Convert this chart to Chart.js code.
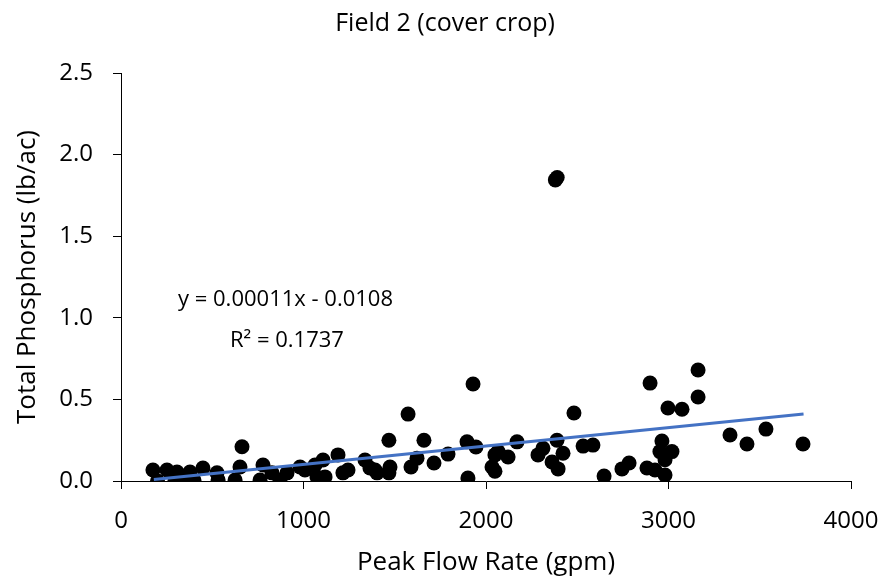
<!DOCTYPE html>
<html>
<head>
<meta charset="utf-8">
<script src="https://cdn.jsdelivr.net/npm/chart.js@4.4.0/dist/chart.umd.min.js"></script>
<style>
  html, body { margin: 0; padding: 0; background: #fff; }
  #wrap { width: 887px; height: 583px; }
</style>
</head>
<body>
<div id="wrap"><canvas id="chart" width="887" height="583"></canvas></div>
<script>
// peak flow rate (gpm) and total phosphorus (lb/ac)
const flowRate = [175, 200, 252, 296, 307, 340, 378, 400, 449, 526, 532, 625, 652, 663, 762, 778, 827, 871, 910, 981,
  1008, 1063, 1074, 1107, 1118, 1189, 1216, 1244, 1337, 1364, 1392, 1403, 1468, 1474, 1468, 1573, 1589, 1622, 1660, 1715,
  1792, 1896, 1901, 1929, 1945, 2033, 2049, 2049, 2066, 2121, 2170, 2285, 2312, 2362, 2380, 2390, 2389, 2395, 2422, 2482,
  2532, 2586, 2647, 2745, 2784, 2882, 2899, 2926, 2953, 2964, 2981, 2981, 2997, 3019, 3074, 3162, 3162, 3337, 3430, 3534, 3737];
const phosphorus = [0.067, 0.0, 0.067, 0.005, 0.055, 0.01, 0.055, 0.005, 0.08, 0.05, 0.006, 0.006, 0.086, 0.21, 0.006, 0.098, 0.05, 0.006, 0.05, 0.086,
  0.067, 0.098, 0.025, 0.129, 0.025, 0.16, 0.05, 0.067, 0.129, 0.08, 0.067, 0.05, 0.05, 0.086, 0.25, 0.41, 0.086, 0.14, 0.25, 0.11,
  0.165, 0.24, 0.018, 0.594, 0.208, 0.086, 0.06, 0.16, 0.18, 0.147, 0.24, 0.16, 0.2, 0.116, 1.845, 1.86, 0.25, 0.074, 0.17, 0.417,
  0.214, 0.22, 0.03, 0.074, 0.11, 0.08, 0.6, 0.067, 0.18, 0.245, 0.13, 0.037, 0.447, 0.18, 0.44, 0.68, 0.515, 0.282, 0.227, 0.318, 0.227];

// linear trendline end points
const trendX = [180, 3740];
const trendY = [0.009, 0.41];

const xTicks = [0, 1000, 2000, 3000, 4000];
const yTicks = [0, 0.5, 1.0, 1.5, 2.0, 2.5];

const titleText = 'Field 2 (cover crop)';
const equationText = 'y = 0.00011x - 0.0108';
const r2Text = 'R² = 0.1737';

const FONT = "'Open Sans', 'Noto Sans', sans-serif";

const textPlugin = {
  id: 'textPlugin',
  afterDraw(chart) {
    const ctx = chart.ctx;
    ctx.save();
    ctx.fillStyle = '#000';
    ctx.textAlign = 'center';
    ctx.textBaseline = 'middle';
    ctx.font = '25px ' + FONT;
    ctx.fillText(titleText, 445, 24);
    ctx.font = '22px ' + FONT;
    ctx.textAlign = 'left';
    ctx.fillText(equationText, 178, 300);
    ctx.fillText(r2Text, 230, 341);
    ctx.restore();
  }
};

const points = flowRate.map((x, i) => ({ x: x, y: phosphorus[i] }));
const trend = trendX.map((x, i) => ({ x: x, y: trendY[i] }));

new Chart(document.getElementById('chart'), {
  type: 'scatter',
  data: {
    datasets: [
      {
        label: 'Total Phosphorus',
        data: points,
        pointRadius: 7.5,
        pointHoverRadius: 7.5,
        pointBackgroundColor: '#000',
        pointBorderWidth: 0,
        order: 2
      },
      {
        label: 'Linear',
        type: 'line',
        data: trend,
        borderColor: '#4472C4',
        borderWidth: 3,
        pointRadius: 0,
        fill: false,
        order: 1
      }
    ]
  },
  options: {
    responsive: false,
    animation: false,
    layout: { padding: { top: 73, right: 36, left: 0, bottom: 0 } },
    plugins: {
      legend: { display: false },
      tooltip: { enabled: false },
      title: { display: false }
    },
    scales: {
      x: {
        type: 'linear',
        min: 0,
        max: 4000,
        afterBuildTicks: scale => { scale.ticks = xTicks.map(v => ({ value: v })); },
        afterFit: scale => {
          scale.height = 102;
          scale.paddingLeft = 0;
          scale.paddingRight = 0;
        },
        grid: { drawOnChartArea: false, color: '#000', tickLength: 8, tickColor: '#000' },
        border: { color: '#000', width: 1 },
        ticks: {
          color: '#000',
          font: { family: FONT, size: 24 },
          padding: 18,
          maxRotation: 0,
          callback: v => String(v)
        },
        title: {
          display: true,
          text: 'Peak Flow Rate (gpm)',
          color: '#000',
          font: { family: FONT, size: 26 },
          padding: { top: 0, bottom: 5 }
        }
      },
      y: {
        type: 'linear',
        min: 0,
        max: 2.5,
        afterBuildTicks: scale => { scale.ticks = yTicks.map(v => ({ value: v })); },
        afterFit: scale => {
          scale.width = 121;
          scale.paddingTop = 0;
          scale.paddingBottom = 0;
        },
        grid: { drawOnChartArea: false, color: '#000', tickLength: 8, tickColor: '#000' },
        border: { color: '#000', width: 1 },
        ticks: {
          color: '#000',
          font: { family: FONT, size: 24 },
          padding: 20,
          callback: v => v.toFixed(1)
        },
        title: {
          display: true,
          text: 'Total Phosphorus (lb/ac)',
          color: '#000',
          font: { family: FONT, size: 26 },
          padding: { top: 12, bottom: 0 }
        }
      }
    }
  },
  plugins: [textPlugin]
});
</script>
</body>
</html>
